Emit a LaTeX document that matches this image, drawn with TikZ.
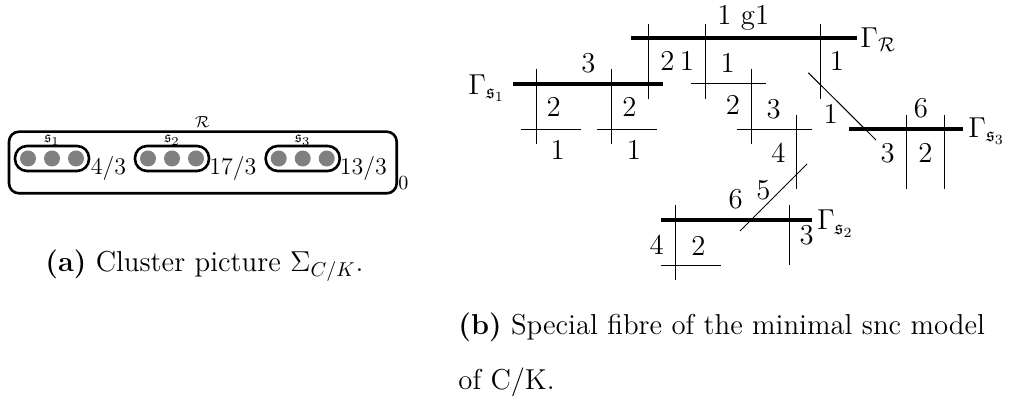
\documentclass[tikz,border=0pt]{standalone}
\usepackage{amssymb}
\usepackage{fontspec}
\begin{document}
\begin{tikzpicture}[x=0.5pt,y=-0.5pt,
  thickln/.style={line width=2pt},
  thinln/.style={line width=0.5pt},
  lab/.style={anchor=base,inner sep=0pt,font=\fontsize{14.4}{17}\selectfont},
  fraclab/.style={anchor=base west,inner sep=0pt,font=\fontsize{12.5}{15}\selectfont},
  captxt/.style={anchor=base west,inner sep=0pt,font=\fontsize{14.4}{17}\selectfont},
  outerbox/.style={draw,line width=1.3pt,rounded corners=5pt},
  innerbox/.style={draw,line width=1.3pt,rounded corners=6pt},
  pt/.style={circle,fill=gray,draw=none,inner sep=0pt,minimum size=8pt},
  small/.style={anchor=base,inner sep=0pt,font=\fontsize{8}{9}\selectfont}]
\useasboundingbox (0,0) rectangle (1010,399);
% ---------- (a) cluster picture ----------
\draw[outerbox] (9,131.7) rectangle (396.7,193.3);
\node[small] (R) at (202.3,127.5) {$\mathcal{R}$};
\foreach \l/\n in {15/1,135/2,265.7/3}{
  \draw[innerbox] (\l,146) rectangle ({\l+74},171);
  \node[small] (s\n) at ({\l+37},143) {$\mathfrak{s}_\n$};
  \foreach \d in {13,37,61}{\node[pt] (p\n\d) at ({\l+\d},158.5) {};}
}
\node[fraclab] (f1) at (90.5,175) {$4/3$};
\node[fraclab] (f2) at (209,175) {$17/3$};
\node[fraclab] (f3) at (339.5,175) {$13/3$};
\node[anchor=base west,inner sep=0pt,font=\fontsize{10}{12}\selectfont] (z) at (398,190) {$0$};
\node[captxt] (capa) at (45,271.7) {\textbf{(a)} Cluster picture $\Sigma_{C/K}$.};
% ---------- (b) special fibre ----------
% thick components
\draw[thickln] (630.7,38.3) -- (856.7,38.3);
\draw[thickln] (513,84.3) -- (663,84.3);
\draw[thickln] (849.3,129.3) -- (963,129.3);
\draw[thickln] (660.7,220.3) -- (811.7,220.3);
% thin components
\draw[thinln] (648.5,24) -- (648.5,99);
\draw[thinln] (705.7,24) -- (705.7,99);
\draw[thinln] (820,24) -- (820,99);
\draw[thinln] (536,69) -- (536,144);
\draw[thinln] (611.7,69) -- (611.7,144);
\draw[thinln] (520.7,129.3) -- (580.7,129.3);
\draw[thinln] (596.7,129.3) -- (656.7,129.3);
\draw[thinln] (691,84) -- (766,84);
\draw[thinln] (751,69.3) -- (751,144);
\draw[thinln] (736.7,129.3) -- (811.7,129.3);
\draw[thinln] (796.3,115) -- (796.3,189.3);
\draw[thinln] (808.3,72.7) -- (876,140);
\draw[thinln] (906.7,115) -- (906.7,189.3);
\draw[thinln] (944,115) -- (944,189.3);
\draw[thinln] (807,164) -- (740,231);
\draw[thinln] (675.7,205) -- (675.7,280);
\draw[thinln] (789,205) -- (789,265);
\draw[thinln] (660.7,266) -- (721,266);
% labels
\node[lab] (g1) at (743.3,25) {1 g1};
\node[lab,anchor=base west] (GR) at (860,47.5) {$\Gamma_{\mathcal{R}}$};
\node[lab,anchor=base west] (GS1) at (468,94.5) {$\Gamma_{\mathfrak{s}_1}$};
\node[lab,anchor=base west] (GS3) at (968,137.5) {$\Gamma_{\mathfrak{s}_3}$};
\node[lab,anchor=base west] (GS2) at (816.7,230) {$\Gamma_{\mathfrak{s}_2}$};
\node[lab] (a1) at (588.3,72.7) {3};
\node[lab] (a2) at (553.7,116.7) {2};
\node[lab] (a3) at (629.3,116.7) {2};
\node[lab] (a4) at (557.7,160) {1};
\node[lab] (a5) at (634,160) {1};
\node[lab] (b1) at (667.3,71) {2};
\node[lab] (b2) at (687,71) {1};
\node[lab] (b3) at (727.7,72.7) {1};
\node[lab] (b4) at (837,71) {1};
\node[lab] (c1) at (733,115) {2};
\node[lab] (c2) at (773.7,118.3) {3};
\node[lab] (c3) at (830.7,123.3) {1};
\node[lab] (c4) at (921,117.3) {6};
\node[lab] (c5) at (887.7,162.3) {3};
\node[lab] (c6) at (925.3,162.3) {2};
\node[lab] (c7) at (778.3,162.3) {4};
\node[lab] (d1) at (735.7,208.3) {6};
\node[lab] (d2) at (763.3,200) {5};
\node[lab] (d3) at (656.7,255) {4};
\node[lab] (d4) at (698.3,255.7) {2};
\node[lab] (d5) at (806.7,245) {3};
\node[captxt] (capb1) at (458,335) {\textbf{(b)} Special fibre of the minimal snc model};
\node[captxt] (capb2) at (458,390) {of C/K.};
\end{tikzpicture}
\end{document}
